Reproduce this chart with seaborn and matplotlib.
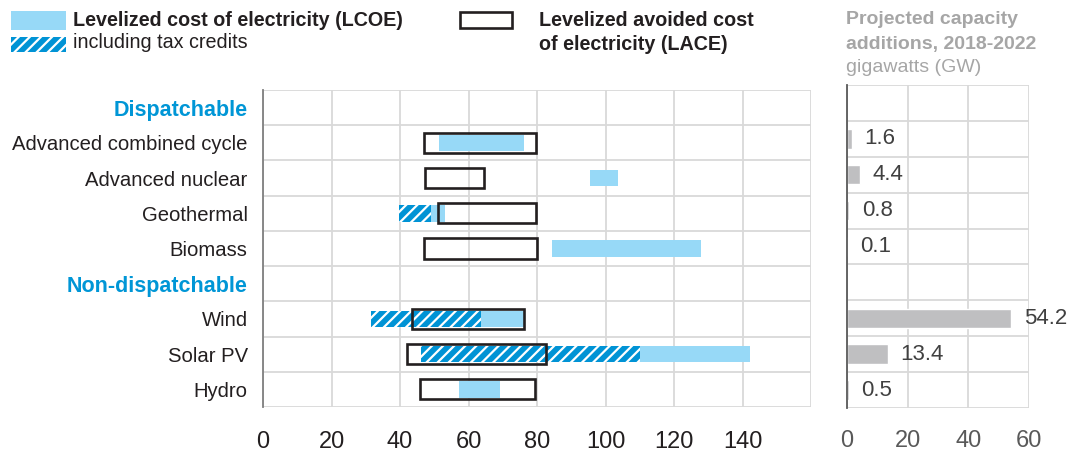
import numpy as np
import pandas as pd
import seaborn as sns
import matplotlib.pyplot as plt
from matplotlib.patches import Rectangle

# ======================================================
# DATA
# ======================================================
rows = ["Dispatchable", "Advanced combined cycle", "Advanced nuclear", "Geothermal",
        "Biomass", "Non-dispatchable", "Wind", "Solar PV", "Hydro"]
headers = ["Dispatchable", "Non-dispatchable"]
techs = ["Advanced combined cycle", "Advanced nuclear", "Geothermal", "Biomass",
         "Wind", "Solar PV", "Hydro"]

# LCOE range ($/MWh), light blue
lcoe_low = [51.3, 95.4, 39.8, 84.4, 31.6, 46.1, 57.1]
lcoe_high = [76.3, 103.7, 53.2, 128.0, 76.1, 142.2, 69.3]
# LCOE including tax credits, hatched
credit_low = [np.nan, np.nan, 39.8, np.nan, 31.6, 46.1, np.nan]
credit_high = [np.nan, np.nan, 49.1, np.nan, 63.7, 110.0, np.nan]
# LACE range, outlined box
lace_low = [47.0, 47.3, 51.2, 47.0, 43.6, 42.1, 45.7]
lace_high = [79.8, 64.4, 79.6, 80.0, 76.1, 82.6, 79.3]
# Projected capacity additions 2018-2022 (GW)
capacity = [1.6, 4.4, 0.8, 0.1, 54.2, 13.4, 0.5]

cost_ticks = [0, 20, 40, 60, 80, 100, 120, 140]
gw_ticks = [0, 20, 40, 60]

# ======================================================
# STYLE
# ======================================================
sns.set_style("white")
plt.rcParams['font.family'] = ['Liberation Sans', 'DejaVu Sans']
plt.rcParams['hatch.linewidth'] = 1.6

LIGHT_BLUE = '#97D9F7'
HATCH_BLUE = '#0093D5'
HEAD_BLUE = '#0096D6'
GRID = '#D9D9D9'
TEXT = '#231F20'
GREY_BAR = '#BFBFC1'
GREY_TITLE = '#A6A6A6'

W, H = 1081, 453
fig = plt.figure(figsize=(W / 100, H / 100), dpi=100)

def box(x0, y0, x1, y1):
    # pixel box -> figure fraction [left, bottom, width, height]
    return [x0 / W, 1 - y1 / H, (x1 - x0) / W, (y1 - y0) / H]

ax = fig.add_axes(box(263, 90, 811, 407))
ax2 = fig.add_axes(box(847, 85, 1029, 408))

ypos = {name: i for i, name in enumerate(rows)}
ty = np.array([ypos[t] for t in techs])

# ---- left panel: ranges
ax.barh(ty, np.array(lcoe_high) - np.array(lcoe_low), left=lcoe_low, height=0.47,
        color=LIGHT_BLUE, linewidth=0, zorder=2)
ax.barh(ty, np.array(credit_high) - np.array(credit_low), left=credit_low, height=0.47,
        color=HATCH_BLUE, edgecolor='white', hatch='///', linewidth=0, zorder=3)
ax.barh(ty, np.array(lace_high) - np.array(lace_low), left=lace_low, height=0.57,
        facecolor='none', edgecolor=TEXT, linewidth=1.9, zorder=4)

ax.set_xlim(0, 160)
ax.set_ylim(len(rows) - 0.5, -0.5)
ax.set_xticks(cost_ticks + [160])
ax.set_xticklabels([str(t) for t in cost_ticks] + [''])
ax.set_yticks(np.arange(len(rows)))
ax.set_yticklabels(rows)
ax.set_yticks(np.arange(len(rows) + 1) - 0.5, minor=True)
ax.tick_params(axis='both', which='both', length=0)
ax.tick_params(axis='y', labelsize=14.6, pad=11, labelcolor=TEXT)
ax.tick_params(axis='x', labelsize=17, pad=17, labelcolor=TEXT)
for lbl in ax.get_yticklabels():
    if lbl.get_text() in headers:
        lbl.set_color(HEAD_BLUE)
        lbl.set_fontweight('bold')
        lbl.set_fontsize(15.5)
ax.grid(True, axis='x', which='major', color=GRID, linewidth=1.3, zorder=0)
ax.grid(True, axis='y', which='minor', color=GRID, linewidth=1.3, zorder=0)
ax.set_axisbelow(True)
for s in ['top', 'right', 'bottom']:
    ax.spines[s].set_visible(False)
ax.spines['left'].set_color('#7F7F7F')
ax.spines['left'].set_linewidth(1.3)

# ---- right panel: capacity additions
cap_df = pd.DataFrame({'tech': techs, 'gw': capacity})
sns.barplot(data=cap_df, x='gw', y='tech', order=rows, orient='h', color=GREY_BAR,
            saturation=1, width=0.54, ax=ax2, zorder=2)
for t, v in zip(techs, capacity):
    ax2.annotate(f"{v:.1f}", (v, ypos[t]), xytext=(9, 0), textcoords='offset points',
                 va='center', ha='left', fontsize=16, color='#404040',
                 annotation_clip=False)
ax2.set_xlim(0, 60)
ax2.set_ylim(len(rows) - 0.5, -0.5)
ax2.set_xticks(gw_ticks)
ax2.set_yticks([])
ax2.set_yticks(np.arange(len(rows) + 1) - 0.5, minor=True)
ax2.set_xlabel('')
ax2.set_ylabel('')
ax2.tick_params(axis='both', which='both', length=0)
ax2.tick_params(axis='x', labelsize=17, pad=16, labelcolor='#595959')
ax2.grid(True, axis='x', which='major', color=GRID, linewidth=1.3, zorder=0)
ax2.grid(True, axis='y', which='minor', color=GRID, linewidth=1.3, zorder=0)
ax2.set_axisbelow(True)
for s in ['top', 'right', 'bottom']:
    ax2.spines[s].set_visible(False)
ax2.spines['left'].set_color('#595959')
ax2.spines['left'].set_linewidth(1.3)

# ---- legend / titles drawn in figure pixels
def fx(x):
    return x / W

def fy(y):
    return 1 - y / H

fig.patches.append(Rectangle((fx(11), fy(30)), 55 / W, 19 / H, transform=fig.transFigure,
                             facecolor=LIGHT_BLUE, linewidth=0))
fig.patches.append(Rectangle((fx(11), fy(52)), 55 / W, 15 / H, transform=fig.transFigure,
                             facecolor=HATCH_BLUE, edgecolor='white', hatch='///', linewidth=0))
fig.patches.append(Rectangle((fx(460), fy(28)), 52 / W, 16 / H, transform=fig.transFigure,
                             facecolor='white', edgecolor=TEXT, linewidth=1.9))
fig.text(fx(73), fy(20), "Levelized cost of electricity (LCOE)", fontsize=14.2,
         fontweight='bold', color=TEXT, va='center', ha='left')
fig.text(fx(73), fy(43), "including tax credits", fontsize=14.2, color=TEXT,
         va='center', ha='left')
fig.text(fx(539), fy(20), "Levelized avoided cost", fontsize=14.2,
         fontweight='bold', color=TEXT, va='center', ha='left')
fig.text(fx(539), fy(44), "of electricity (LACE)", fontsize=14.2,
         fontweight='bold', color=TEXT, va='center', ha='left')
fig.text(fx(846), fy(20), "Projected capacity", fontsize=14,
         fontweight='bold', color=GREY_TITLE, va='center', ha='left')
fig.text(fx(846), fy(44), "additions, 2018-2022", fontsize=14,
         fontweight='bold', color=GREY_TITLE, va='center', ha='left')
fig.text(fx(846), fy(68), "gigawatts (GW)", fontsize=14, color=GREY_TITLE,
         va='center', ha='left')

fig.savefig('out.png', dpi=100)
